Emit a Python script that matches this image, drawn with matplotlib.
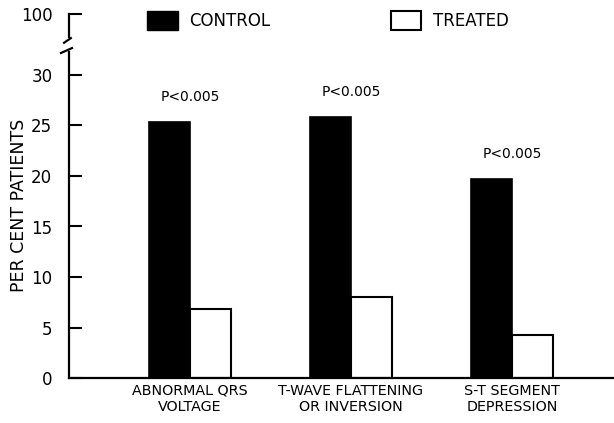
import matplotlib
matplotlib.use('Agg')
import matplotlib.pyplot as plt
from matplotlib.patches import Patch
import numpy as np

categories = ['ABNORMAL QRS\nVOLTAGE', 'T-WAVE FLATTENING\nOR INVERSION', 'S-T SEGMENT\nDEPRESSION']
control = [25.3, 25.8, 19.7]
treated = [6.8, 8.0, 4.3]
p_labels = ['P<0.005', 'P<0.005', 'P<0.005']
yticks = [0, 5, 10, 15, 20, 25, 30]

plt.rcParams['font.family'] = 'DejaVu Sans'

fig = plt.figure(figsize=(6.14, 4.23), dpi=100)
W, H = 614, 423

# main axis: 0 at y=378px, top at y=52px, x from 69 to 614
ax = fig.add_axes([69 / W, (H - 378) / H, 545 / W, (378 - 52) / H])
x = np.arange(len(categories))
bw = 0.255
ax.bar(x - bw / 2, control, bw, color='black', edgecolor='black', linewidth=1.2)
ax.bar(x + bw / 2, treated, bw, color='white', edgecolor='black', linewidth=1.5)

for xi, h, lab in zip(x, control, p_labels):
    ax.text(xi, h + 2.5, lab, ha='center', va='center', fontsize=10)

ax.set_xlim(-0.752, 2.634)
ax.set_ylim(0, (378 - 52) / 10.1)
ax.set_yticks(yticks)
ax.set_yticklabels([str(t) for t in yticks], fontsize=12)
ax.set_xticks(x)
ax.set_xticklabels(categories, fontsize=10.3, linespacing=1.25)
ax.tick_params(axis='y', direction='in', length=9, width=1.5, pad=12)
ax.tick_params(axis='x', length=0, pad=4)
ax.spines['top'].set_visible(False)
ax.spines['right'].set_visible(False)
ax.spines['left'].set_linewidth(1.6)
ax.spines['bottom'].set_linewidth(1.6)
ax.set_ylabel('PER CENT PATIENTS', fontsize=12.5)
ax.yaxis.set_label_coords(-0.075, 0.53)

# break slash on the lower axis
ax.plot([-0.0147, 0.0055], [0.997, 1.012], transform=ax.transAxes,
        color='black', lw=1.6, clip_on=False)

# small upper axis carrying the 100 tick
ax2 = fig.add_axes([69 / W, (H - 37) / H, 0.05, (37 - 14) / H])
ax2.set_ylim(97.7, 100)
ax2.set_yticks([100])
ax2.set_yticklabels(['100'], fontsize=12)
ax2.set_xticks([])
ax2.tick_params(axis='y', direction='in', length=9, width=1.5, pad=12)
for s in ['top', 'right', 'bottom']:
    ax2.spines[s].set_visible(False)
ax2.spines['left'].set_linewidth(1.6)
ax2.patch.set_alpha(0)
ax2.plot([-0.16, 0.06], [-0.25, -0.05], transform=ax2.transAxes,
         color='black', lw=1.6, clip_on=False)

handles = [Patch(facecolor='black', edgecolor='black', label='CONTROL'),
           Patch(facecolor='white', edgecolor='black', linewidth=1.5, label='TREATED')]
fig.legend(handles=handles, loc='upper left', bbox_to_anchor=(147 / W, 1 - 11 / H),
           ncol=2, frameon=False, fontsize=12, handlelength=1.85, handleheight=1.35,
           handletextpad=0.7, columnspacing=7.2, borderpad=0, borderaxespad=0)

fig.savefig('out.png', dpi=100)
